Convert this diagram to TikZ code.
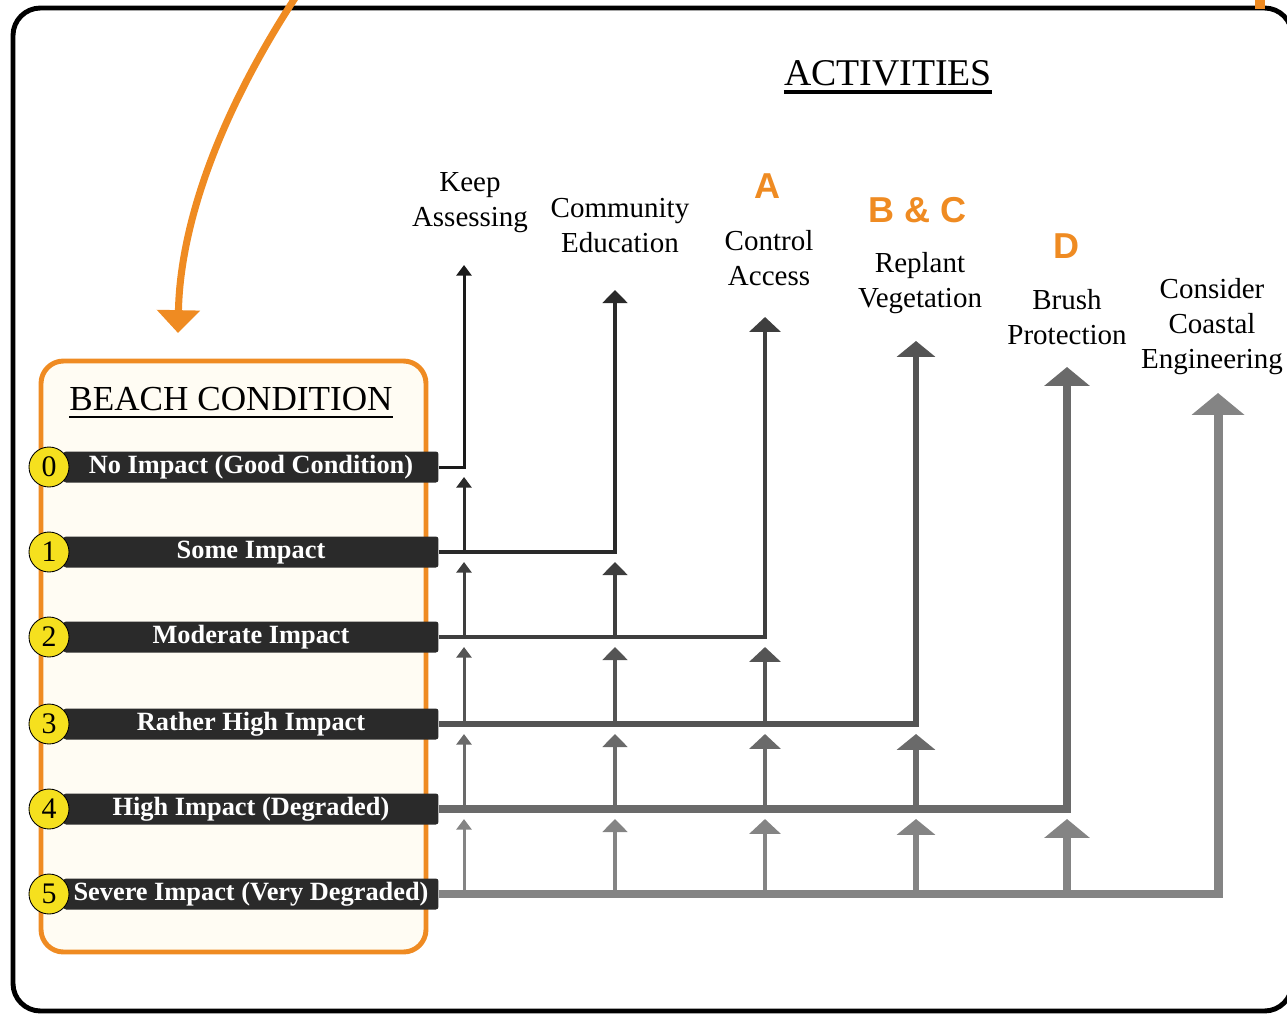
\documentclass[tikz,border=0pt]{standalone}
\usepackage{fontspec}
\setmainfont{Liberation Serif}
\newfontfamily\lettersans{Liberation Sans}
\usetikzlibrary{arrows.meta,calc}

\definecolor{beachorange}{RGB}{239,139,34}
\definecolor{beachyellow}{RGB}{245,224,30}
\definecolor{barblack}{RGB}{42,42,42}
\definecolor{cream}{RGB}{255,252,243}
\definecolor{row0}{RGB}{26,26,26}
\definecolor{row1}{RGB}{42,42,42}
\definecolor{row2}{RGB}{62,62,62}
\definecolor{row3}{RGB}{84,84,84}
\definecolor{row4}{RGB}{106,106,106}
\definecolor{row5}{RGB}{132,132,132}

\begin{document}
\begin{tikzpicture}[x=0.02cm, y=-0.02cm]
    \tikzstyle{every node}=[inner sep=0pt]
    \tikzstyle{bar}=[fill=barblack, rounded corners=1.5pt, minimum width=7.5cm, minimum height=0.62cm, text=white, font=\fontsize{15}{18}\selectfont\bfseries, text height=10pt, text depth=3pt]
    \tikzstyle{num}=[circle, draw=black, line width=0.5pt, fill=beachyellow, minimum size=0.8cm, font=\fontsize{17}{20}\selectfont]
    \tikzstyle{activity}=[align=center, anchor=north, font=\fontsize{16.5}{19.9}\selectfont]
    \tikzstyle{letter}=[anchor=base, text=beachorange, font=\lettersans\fontsize{20.5}{24}\selectfont\bfseries]
    \tikzstyle{col0}=[line width=1.7pt, -{Triangle[width=8.5pt,length=6pt]}]
    \tikzstyle{col1}=[line width=2.3pt, -{Triangle[width=14pt,length=7.4pt]}]
    \tikzstyle{col2}=[line width=2.8pt, -{Triangle[width=17.6pt,length=8.5pt]}]
    \tikzstyle{col3}=[line width=3.5pt, -{Triangle[width=21.5pt,length=9pt]}]
    \tikzstyle{col4}=[line width=4.5pt, -{Triangle[width=25.5pt,length=10.8pt]}]
    \tikzstyle{col5}=[line width=5.1pt, -{Triangle[width=29.5pt,length=12.5pt]}]

    \useasboundingbox (0,0) rectangle (1287,1014);
    \begin{scope}
    \clip (0,0) rectangle (1287,1014);
    \draw[line width=2.8pt, rounded corners=0.55cm] (13,8) rectangle (1292,1011);
    \coordinate (stubtop) at (1260,-5);
    \coordinate (stubend) at (1260,9);
    \draw[beachorange, line width=6pt] (stubtop) -- (stubend);
    \end{scope}

% beach condition box with its six levels
    \draw[beachorange, line width=2.8pt, fill=cream, rounded corners=0.45cm] (41,361) rectangle (426,952);
    \node[anchor=base, font=\fontsize{20}{24}\selectfont] (condtitle) at (231,410) {BEACH CONDITION};
    \draw[line width=1.6pt] ($(condtitle.base west)+(0,7)$) -- ($(condtitle.base east)+(0,7)$);

    \foreach \i/\y/\txt in {0/467/{No Impact (Good Condition)}, 1/552/{Some Impact}, 2/637/{Moderate Impact}, 3/724/{Rather High Impact}, 4/809/{High Impact (Degraded)}, 5/894/{Severe Impact (Very Degraded)}} {
        \node[bar] (c\i) at (251,\y) {\txt};
        \node[num] (n\i) at (49,\y) {\i};
    }

% activities
    \node[anchor=base, font=\fontsize{21.5}{24}\selectfont] (acttitle) at (888,85) {ACTIVITIES};
    \draw[line width=2pt] ($(acttitle.base west)+(0,7)$) -- ($(acttitle.base east)+(0,7)$);

    \node[activity] (keep) at (470,172) {Keep\\Assessing};
    \node[activity] (educ) at (620,198) {Community\\Education};
    \node[letter] (la) at (767,198) {A};
    \node[activity] (access) at (769,230) {Control\\Access};
    \node[letter] (lbc) at (918,222) {B \& C};
    \node[activity] (replant) at (920,252) {Replant\\Vegetation};
    \node[letter] (ld) at (1066,258) {D};
    \node[activity] (brush) at (1067,289) {Brush\\Protection};
    \node[activity] (engin) at (1212,278) {Consider\\Coastal\\Engineering};

    \foreach \j/\x/\tip in {0/464/265, 1/615/290, 2/765/317, 3/916/341, 4/1067/367, 5/1218/393}
        \coordinate (t\j) at (\x,\tip);

% each level leads to its activity and to all the ones before it
    \foreach \i in {0,...,5}
        \draw[col\i, draw=row\i] (c\i.east) -| (t\i);
    \foreach \i [count=\k from 0] in {1,...,5} {
        \foreach \j in {0,...,\k}
            \draw[col\j, draw=row\i] (t\j |- c\i.east) -- ($(t\j |- c\k.east)+(0,10)$);
    }

    \coordinate (from) at (297,-5);
    \coordinate (into) at (178,333);
    \draw[beachorange, line width=4pt, -{Triangle[width=24pt,length=13pt]}] (from) .. controls (215,120) and (180,230) .. (into);
\end{tikzpicture}
\end{document}
